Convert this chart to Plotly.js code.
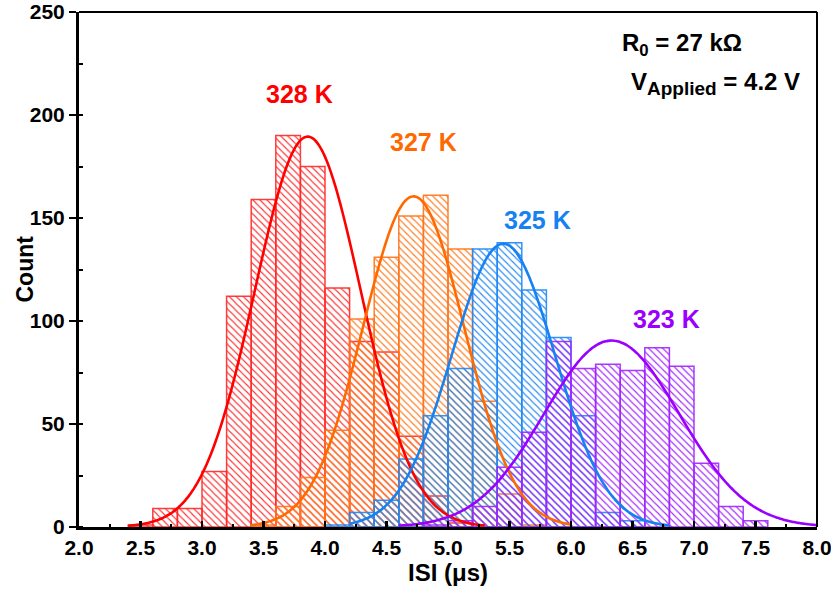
<!DOCTYPE html>
<html>
<head>
<meta charset="utf-8">
<script src="https://cdn.plot.ly/plotly-3.0.1.min.js"></script>
<style>
  html, body { margin: 0; padding: 0; background: #ffffff; }
  #chart { width: 831px; height: 590px; }
</style>
</head>
<body>
<div id="chart"></div>
<script>
// ISI histograms (bin width 0.2 µs) for four temperatures
const binWidth = 0.2;

const x328 = [2.5, 2.7, 2.9, 3.1, 3.3, 3.5, 3.7, 3.9, 4.1, 4.3, 4.5, 4.7, 4.9, 5.1];
const n328 = [1, 9, 9, 27, 112, 159, 190, 175, 116, 90, 85, 44, 15, 2];

const x327 = [3.5, 3.7, 3.9, 4.1, 4.3, 4.5, 4.7, 4.9, 5.1, 5.3, 5.5, 5.7];
const n327 = [1, 10, 24, 47, 101, 131, 151, 161, 135, 61, 16, 1];

const x325 = [4.1, 4.3, 4.5, 4.7, 4.9, 5.1, 5.3, 5.5, 5.7, 5.9, 6.1, 6.3, 6.5];
const n325 = [1, 7, 13, 33, 54, 77, 135, 138, 115, 92, 54, 7, 3];

const x323 = [4.9, 5.1, 5.3, 5.5, 5.7, 5.9, 6.1, 6.3, 6.5, 6.7, 6.9, 7.1, 7.3, 7.5];
const n323 = [1, 3, 10, 29, 46, 90, 77, 79, 76, 87, 78, 31, 10, 3];

// Gaussian fit parameters: centre, width, height, and the span the fit is drawn over
const temps     = ['328 K', '327 K', '325 K', '323 K'];
const fitCenter = [3.86, 4.72, 5.45, 6.33];
const fitSigma  = [0.43, 0.41, 0.42, 0.55];
const fitPeak   = [189.5, 160.5, 137.5, 90.5];
const fitFrom   = [2.4, 3.4, 4.2, 4.6];
const fitTo     = [5.3, 6.0, 6.8, 8.0];

// label anchor points (data coordinates)
const labelX = [3.79, 4.8, 5.73, 6.78];
const labelY = [210, 187, 149, 101];

const lineColors  = ['#ff0000', '#ff6a00', '#1682f2', '#9b00ff'];
const hatchColors = ['#ff3030', '#ff7a1f', '#2389f3', '#a326ff'];
const edgeColors  = ['rgba(255,40,40,0.9)', 'rgba(255,115,25,0.9)', 'rgba(30,135,245,0.9)', 'rgba(160,35,255,0.9)'];

const histX = [x328, x327, x325, x323];
const histN = [n328, n327, n325, n323];

const traces = [];
for (let i = 0; i < temps.length; i++) {
  traces.push({
    type: 'bar',
    name: temps[i],
    x: histX[i],
    y: histN[i],
    width: binWidth,
    marker: {
      color: hatchColors[i],
      line: { color: edgeColors[i], width: 1.5 },
      pattern: { shape: '\\', size: 5, solidity: 0.22, fillmode: 'replace' }
    },
    hoverinfo: 'x+y',
    showlegend: false
  });
}

// fitted curves
for (let i = 0; i < temps.length; i++) {
  const fx = [], fy = [];
  const steps = 200;
  for (let k = 0; k <= steps; k++) {
    const xv = fitFrom[i] + (fitTo[i] - fitFrom[i]) * k / steps;
    const d = (xv - fitCenter[i]) / fitSigma[i];
    fx.push(xv);
    fy.push(fitPeak[i] * Math.exp(-0.5 * d * d));
  }
  traces.push({
    type: 'scatter',
    mode: 'lines',
    x: fx,
    y: fy,
    line: { color: lineColors[i], width: 2.6, shape: 'spline' },
    hoverinfo: 'skip',
    showlegend: false
  });
}

const bold = { family: 'Liberation Sans, Arial, sans-serif', color: '#000000', weight: 'bold' };

const annotations = temps.map((t, i) => ({
  x: labelX[i], y: labelY[i], xref: 'x', yref: 'y',
  text: t, showarrow: false,
  font: { family: bold.family, size: 25, color: lineColors[i], weight: 'bold' }
}));

annotations.push({
  xref: 'paper', yref: 'paper', x: 0.733, y: 0.937, xanchor: 'left', yanchor: 'middle',
  text: 'R<sub>0</sub> = 27 kΩ', showarrow: false,
  font: { family: bold.family, size: 24, color: '#000000', weight: 'bold' }
});
annotations.push({
  xref: 'paper', yref: 'paper', x: 0.745, y: 0.862, xanchor: 'left', yanchor: 'middle',
  text: 'V<sub><span style="font-size:19px">Applied</span></sub> = 4.2 V', showarrow: false,
  font: { family: bold.family, size: 24, color: '#000000', weight: 'bold' }
});

// y-axis title, placed beside the tick labels
annotations.push({
  xref: 'paper', yref: 'paper', x: -0.0745, y: 0.5, xanchor: 'center', yanchor: 'middle',
  text: 'Count', textangle: -90, showarrow: false,
  font: { family: bold.family, size: 23, color: '#000000', weight: 'bold' }
});

const layout = {
  width: 831,
  height: 590,
  paper_bgcolor: '#ffffff',
  plot_bgcolor: '#ffffff',
  margin: { l: 79, r: 14, t: 12, b: 63 },
  barmode: 'overlay',
  bargap: 0,
  xaxis: {
    range: [2, 8],
    tick0: 2, dtick: 0.5, tickformat: '.1f',
    ticks: 'inside', ticklen: 6, tickwidth: 2.5, tickcolor: '#000',
    minor: { dtick: 0.25, ticks: 'inside', ticklen: 3, tickwidth: 2, tickcolor: '#000', showgrid: false },
    showline: true, linewidth: 3, linecolor: '#000',
    showgrid: false, zeroline: false,
    ticklabeloverflow: 'allow',
    tickfont: Object.assign({ size: 21 }, bold),
    title: { text: 'ISI (μs)', font: Object.assign({ size: 24 }, bold), standoff: 4 }
  },
  yaxis: {
    range: [0, 250],
    tick0: 0, dtick: 50,
    ticks: 'outside', ticklen: 7, tickwidth: 2.5, tickcolor: '#000',
    minor: { dtick: 25, ticks: 'inside', ticklen: 4, tickwidth: 2, tickcolor: '#000', showgrid: false },
    showline: true, linewidth: 3, linecolor: '#000',
    showgrid: false, zeroline: false,
    ticklabeloverflow: 'allow',
    tickfont: Object.assign({ size: 21 }, bold)
  },
  shapes: [
    { type: 'line', xref: 'paper', yref: 'paper', x0: 0, x1: 1, y0: 1, y1: 1, line: { color: '#000', width: 2 } },
    { type: 'line', xref: 'paper', yref: 'paper', x0: 1, x1: 1, y0: 0, y1: 1, line: { color: '#000', width: 2 } }
  ],
  annotations: annotations
};

Plotly.newPlot('chart', traces, layout, { displayModeBar: false, staticPlot: true });
</script>
</body>
</html>
